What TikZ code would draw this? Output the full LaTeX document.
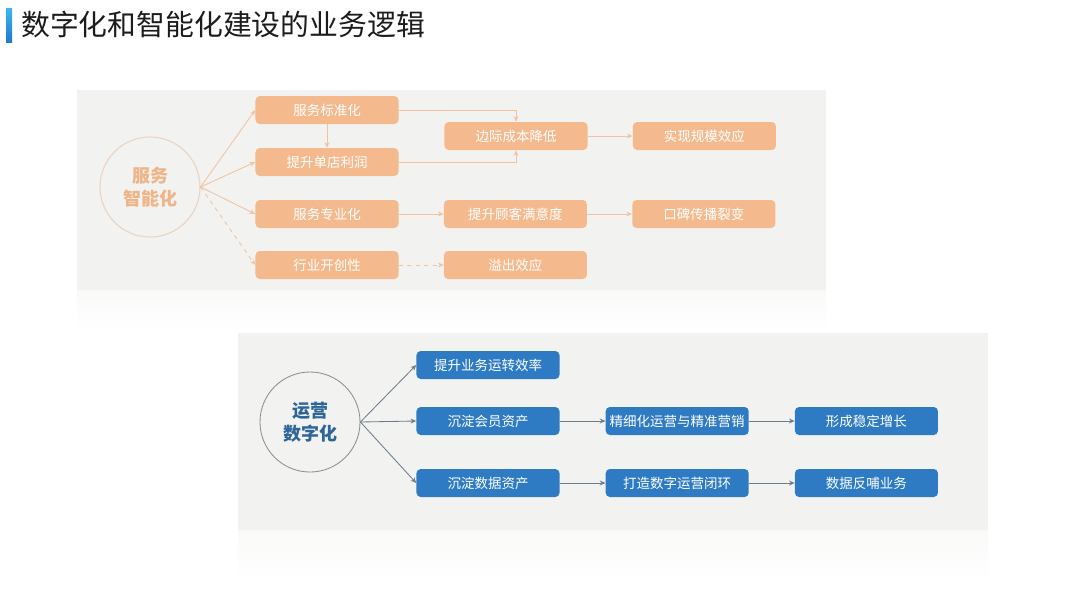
\documentclass[tikz,border=0pt]{standalone}
\usepackage{fontspec}
\setmainfont{Noto Sans CJK SC}
\usepackage{tikz}
\usetikzlibrary{arrows.meta,positioning,shapes.geometric,calc}
\usepackage{xcolor}
\definecolor{PanelGray}{HTML}{F2F2F0}
\definecolor{OrangeBox}{HTML}{F4BA8E}
\definecolor{OrangeLine}{HTML}{F1C3A0}
\definecolor{OrangeText}{HTML}{EFB488}
\definecolor{RingBeige}{HTML}{EBD5C2}
\definecolor{BlueBox}{HTML}{2E7BC4}
\definecolor{BlueText}{HTML}{2F6699}
\definecolor{ArrowGray}{HTML}{6E7C8A}
\definecolor{RingGray}{HTML}{8E8E8E}
\definecolor{TitleColor}{HTML}{1C1C1C}
\definecolor{BarTop}{HTML}{3DB8F2}
\definecolor{BarBot}{HTML}{1E78D2}

\begin{document}
\begin{tikzpicture}[x=0.025cm,y=-0.025cm,
    every node/.style={font=\fontsize{9.6pt}{11pt}\selectfont},
    obox/.style={rectangle,rounded corners=3pt,fill=OrangeBox,text=white,
                 minimum width=3.575cm,minimum height=0.7cm,inner sep=0pt},
    bbox/.style={rectangle,rounded corners=3pt,fill=BlueBox,text=white,
                 minimum width=3.575cm,minimum height=0.7cm,inner sep=0pt},
    oarrow/.style={-{Stealth[length=4pt,width=3.5pt]},OrangeLine,line width=0.6pt},
    barrow/.style={-{Stealth[length=4pt,width=3.5pt]},ArrowGray,line width=0.6pt}]
  \useasboundingbox (0,0) rectangle (1080,608);
  \fill[white] (0,0) rectangle (1080,608);
  % title
  \shade[top color=BarTop,bottom color=BarBot] (6,8) rectangle (12,42);
  \node[anchor=west,text=TitleColor,inner sep=0pt,
        font=\fontsize{20.5pt}{24pt}\selectfont] (title) at (21,24)
    {数字化和智能化建设的业务逻辑};
  % panels
  \fill[PanelGray] (77,90) rectangle (826,290);
  \shade[top color=PanelGray!45,bottom color=white] (77,290) rectangle (826,330);
  \fill[PanelGray] (238,333) rectangle (988,530);
  \shade[top color=PanelGray!45,bottom color=white] (238,530) rectangle (988,580);

  % upper part
  \node[circle,draw=RingBeige,line width=0.8pt,fill=PanelGray,
        minimum size=2.5cm,align=center,text=OrangeText,
        font=\fontsize{12.8pt}{16pt}\selectfont\bfseries] (svc) at (150,187)
    {服务\\智能化};
  \node[obox] (std) at (327,110) {服务标准化};
  \node[obox] (profit) at (327,162) {提升单店利润};
  \node[obox] (pro) at (327,214) {服务专业化};
  \node[obox] (pioneer) at (327,265) {行业开创性};
  \node[obox,right=1.12cm of pro] (satis) {提升顾客满意度};
  \node[obox,right=1.12cm of pioneer] (spill) {溢出效应};
  \node[obox] (cost) at (516,136) {边际成本降低};
  \node[obox,right=1.12cm of cost] (scale) {实现规模效应};
  \node[obox,right=1.12cm of satis] (wom) {口碑传播裂变};

  \draw[oarrow] (svc.east) -- (std.west);
  \draw[oarrow] (svc.east) -- (profit.west);
  \draw[oarrow] (svc.east) -- (pro.west);
  \draw[oarrow,dashed] (svc.east) -- (pioneer.west);
  \draw[oarrow] (std.south) -- (profit.north);
  \draw[oarrow] (std.east) -| (cost.north);
  \draw[oarrow] (profit.east) -| (cost.south);
  \draw[oarrow] (cost) -- (scale);
  \draw[oarrow] (pro) -- (satis);
  \draw[oarrow] (satis) -- (wom);
  \draw[oarrow,dashed] (pioneer) -- (spill);

  % lower part
  \node[circle,draw=RingGray,line width=0.6pt,fill=PanelGray,
        minimum size=2.5cm,align=center,text=BlueText,
        font=\fontsize{12.8pt}{16pt}\selectfont\bfseries] (ops) at (310,422)
    {运营\\数字化};
  \node[bbox] (eff) at (488,365) {提升业务运转效率};
  \node[bbox] (member) at (488,421) {沉淀会员资产};
  \node[bbox] (data) at (488,483) {沉淀数据资产};
  \node[bbox,right=1.14cm of member] (fine) {精细化运营与精准营销};
  \node[bbox,right=1.14cm of fine] (growth) {形成稳定增长};
  \node[bbox,right=1.14cm of data] (loop) {打造数字运营闭环};
  \node[bbox,right=1.14cm of loop] (feed) {数据反哺业务};

  \draw[barrow] (ops.east) -- (eff.west);
  \draw[barrow] (ops.east) -- (member.west);
  \draw[barrow] (ops.east) -- (data.west);
  \draw[barrow] (member) -- (fine);
  \draw[barrow] (fine) -- (growth);
  \draw[barrow] (data) -- (loop);
  \draw[barrow] (loop) -- (feed);
\end{tikzpicture}
\end{document}
